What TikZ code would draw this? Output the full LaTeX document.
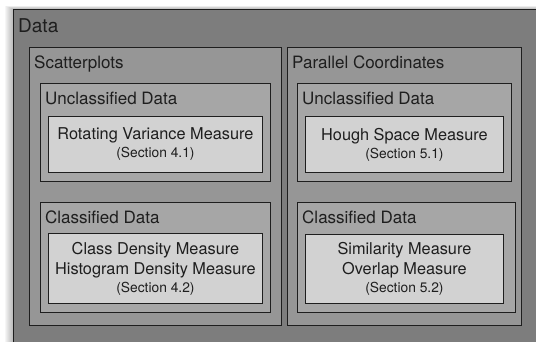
\documentclass[tikz,border=0pt]{standalone}
\usepackage{fontspec}
\setmainfont{TeX Gyre Heros}

\definecolor{datagray}{HTML}{7D7D7D}
\definecolor{viewgray}{HTML}{969696}
\definecolor{classgray}{HTML}{A6A6A6}
\definecolor{measgray}{HTML}{D2D2D2}
\definecolor{inkgray}{HTML}{1E1E1E}

\tikzset{
    box/.style={draw=inkgray, line width=0.9pt, rectangle, inner sep=0pt, anchor=north west},
    title/.style={text=inkgray, anchor=base west, inner sep=0pt, font=\fontsize{17}{20}\selectfont},
    measure/.style={box, fill=measgray, align=center, text=inkgray, font=\fontsize{16.3}{20}\selectfont},
}
\newcommand{\sectref}[1]{\\[-2pt]{\fontsize{13.8}{15}\selectfont (Section #1)}}

\begin{document}
\begin{tikzpicture}[x=1pt, y=-1pt]
    \useasboundingbox (0,0) rectangle (536,341);
    \clip (0,0) rectangle (536,341);
    %\fill[white] (0,0) rectangle (536,341);
    \foreach \i in {1,...,8}
        \fill[black, opacity=0.035] (13-\i, 9-0.4*\i) rectangle (560,360);

    \node[box, fill=datagray, minimum width=540pt, minimum height=350pt] (data) at (13,9) {};
    \node[title, font=\fontsize{19}{22}\selectfont] (dataT) at ([shift={(5,23)}]data.north west) {Data};

    % scatterplots
    \node[box, fill=viewgray, minimum width=252pt, minimum height=278pt] (scat) at (29,47) {};
    \node[title] (scatT) at ([shift={(5,21)}]scat.north west) {Scatterplots};
    \node[box, fill=classgray, minimum width=230pt, minimum height=98pt] (scatU) at (40,83) {};
    \node[title] (scatUT) at ([shift={(5,21)}]scatU.north west) {Unclassified Data};
    \node[measure, minimum width=214pt, minimum height=56pt] (scatUm) at (48,116)
        {Rotating Variance Measure\sectref{4.1}};
    \node[box, fill=classgray, minimum width=230pt, minimum height=110pt] (scatC) at (40,202) {};
    \node[title] (scatCT) at ([shift={(5,21)}]scatC.north west) {Classified Data};
    \node[measure, minimum width=214pt, minimum height=70pt] (scatCm) at (48,233)
        {Class Density Measure\\Histogram Density Measure\sectref{4.2}};

    % parallel coordinates
    \node[box, fill=viewgray, minimum width=234pt, minimum height=278pt] (par) at (287,47) {};
    \node[title] (parT) at ([shift={(5,21)}]par.north west) {Parallel Coordinates};
    \node[box, fill=classgray, minimum width=214pt, minimum height=98pt] (parU) at (297,83) {};
    \node[title] (parUT) at ([shift={(5,21)}]parU.north west) {Unclassified Data};
    \node[measure, minimum width=198pt, minimum height=56pt] (parUm) at (305,116)
        {Hough Space Measure\sectref{5.1}};
    \node[box, fill=classgray, minimum width=218pt, minimum height=110pt] (parC) at (297,202) {};
    \node[title] (parCT) at ([shift={(5,21)}]parC.north west) {Classified Data};
    \node[measure, minimum width=198pt, minimum height=69pt] (parCm) at (305,234)
        {Similarity Measure\\Overlap Measure\sectref{5.2}};
\end{tikzpicture}
\end{document}
